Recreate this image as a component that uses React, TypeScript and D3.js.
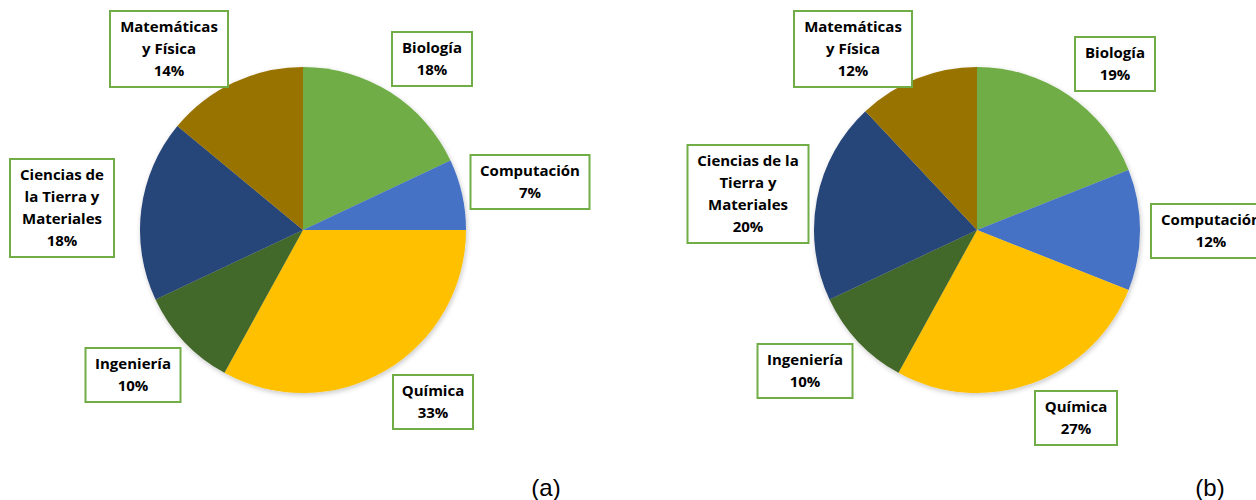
import React from 'react';
import * as d3 from 'd3';

// categories, clockwise from 12 o'clock
const categories = [
  'Biología',
  'Computación',
  'Química',
  'Ingeniería',
  'Ciencias de la Tierra y Materiales',
  'Matemáticas y Física',
];
const valuesA = [18, 7, 33, 10, 18, 14];
const valuesB = [19, 12, 27, 10, 20, 12];
const colors = ['#70AD47', '#4472C4', '#FFC000', '#43682B', '#264478', '#997300'];

// how each panel wraps the category names
const linesA = [
  ['Biología'],
  ['Computación'],
  ['Química'],
  ['Ingeniería'],
  ['Ciencias de', 'la Tierra y', 'Materiales'],
  ['Matemáticas', 'y Física'],
];
const linesB = [
  ['Biología'],
  ['Computación'],
  ['Química'],
  ['Ingeniería'],
  ['Ciencias de la', 'Tierra y', 'Materiales'],
  ['Matemáticas', 'y Física'],
];

// label box centre + width, set by hand in the original
const boxesA = [
  [432, 59, 80], [530, 182, 119], [433, 402, 80],
  [133, 375, 95], [62, 208, 104], [169, 49, 118],
];
const boxesB = [
  [1115, 64, 80], [1211, 231, 120], [1076, 418, 82],
  [805, 371, 95], [748, 194, 121], [853, 49, 118],
];

const W = 1256;
const H = 500;
const R = 163;
const LINE = 22;

const arc = d3.arc<d3.PieArcDatum<number>>().innerRadius(0).outerRadius(R);
const pie = d3.pie<number>().sort(null).value((d) => d);

function Pie({ cx, cy, values, lines, boxes, caption, capX }) {
  const arcs = pie(values);
  return (
    <g>
      <g transform={`translate(${cx},${cy})`} filter="url(#shadow)">
        {arcs.map((a, i) => (
          <path key={i} d={arc(a) || ''} fill={colors[i]} />
        ))}
      </g>
      {arcs.map((a, i) => {
        const [bx, by, bw] = boxes[i];
        const txt = [...lines[i], `${Math.round(values[i])}%`];
        const bh = txt.length * LINE + 10;
        return (
          <g key={'l' + i}>
            <rect
              x={bx - bw / 2}
              y={by - bh / 2}
              width={bw}
              height={bh}
              fill="#fff"
              stroke="#70AD47"
              strokeWidth={2}
            />
            {txt.map((t, j) => (
              <text
                key={j}
                x={bx}
                y={by - ((txt.length - 1) * LINE) / 2 + j * LINE}
                dy="0.36em"
                textAnchor="middle"
                fontFamily="'Open Sans', sans-serif"
                fontWeight={700}
                fontSize={15}
                fill="#000"
              >
                {t}
              </text>
            ))}
          </g>
        );
      })}
      <text
        x={capX}
        y={496}
        textAnchor="middle"
        fontFamily="'Liberation Sans', Arial, sans-serif"
        fontSize={24}
        fill="#000"
      >
        {caption}
      </text>
    </g>
  );
}

export default function App() {
  return (
    <svg
      width={W}
      height={H}
      style={{ position: 'absolute', left: 0, top: 0, display: 'block', background: '#fff' }}
    >
      <defs>
        <filter id="shadow" x="-20%" y="-20%" width="140%" height="140%">
          <feDropShadow dx="1" dy="2" stdDeviation="2.5" floodColor="#000" floodOpacity="0.22" />
        </filter>
      </defs>
      <Pie cx={303} cy={230} values={valuesA} lines={linesA} boxes={boxesA} caption="(a)" capX={546} />
      <Pie cx={977} cy={230} values={valuesB} lines={linesB} boxes={boxesB} caption="(b)" capX={1210} />
    </svg>
  );
}
